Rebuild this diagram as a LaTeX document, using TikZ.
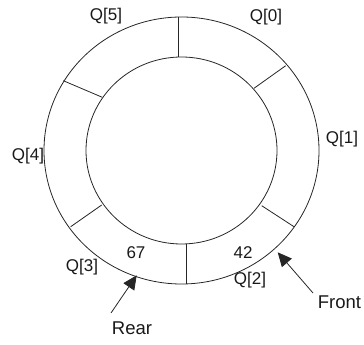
\documentclass[tikz,border=0pt]{standalone}
\usepackage{fontspec}
\setmainfont{Liberation Sans}
\usetikzlibrary{arrows.meta}
\begin{document}
\begin{tikzpicture}[x=1pt,y=1pt,
  ring/.style={draw=black!85, line width=0.8pt},
  lbl/.style={inner sep=0pt, font=\fontsize{17}{20}\selectfont, text=black!90},
  biglbl/.style={lbl, font=\fontsize{18.5}{22}\selectfont},
  pointer/.style={draw=black!85, line width=0.8pt, -{Triangle[length=14pt,width=13pt]}}]
\useasboundingbox (0,0) rectangle (364,345);
\coordinate (c) at (181.5,194.5);
% rings
\draw[ring] (c) ellipse [x radius=137.5, y radius=133.5];
\draw[ring] (c) ellipse [x radius=95.5, y radius=93.5];
% dividers
\draw[ring] (178,328) -- (178,288);
\draw[ring] (285.7,279.3) -- (254,256.7);
\draw[ring] (294,118.3) -- (261.7,139.3);
\draw[ring] (186,101) -- (186,61);
\draw[ring] (70.7,118.3) -- (101.7,140);
\draw[ring] (63.3,264.3) -- (102.3,247.7);
% labels
\node[lbl] (q5) at (106,328.5) {Q[5]};
\node[lbl] (q0) at (266,328) {Q[0]};
\node[lbl] (q1) at (342,206) {Q[1]};
\node[lbl] (q4) at (28,189) {Q[4]};
\node[lbl] (q3) at (82,78) {Q[3]};
\node[lbl] (q2) at (250,65) {Q[2]};
\node[lbl] (v67) at (136,92) {67};
\node[lbl] (v42) at (243,92) {42};
\node[biglbl] (front) at (339.5,43) {Front};
\node[biglbl] (rear) at (132,17) {Rear};
% pointers
\coordinate (ftip) at (277.7,92.7);
\coordinate (ftail) at (313,52);
\coordinate (rtip) at (136.7,69.7);
\coordinate (rtail) at (111,32);
\draw[pointer] (ftail) -- (ftip);
\draw[pointer] (rtail) -- (rtip);
\end{tikzpicture}
\end{document}
